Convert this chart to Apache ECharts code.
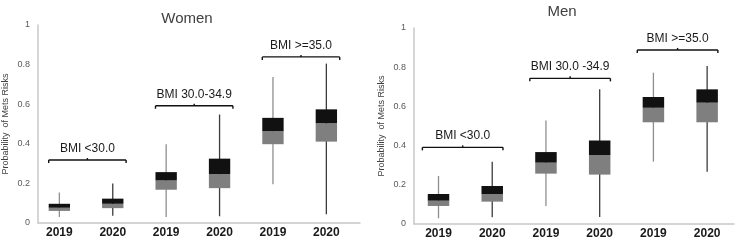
<!DOCTYPE html>
<html>
<head>
<meta charset="utf-8">
<script src="https://cdn.jsdelivr.net/npm/echarts@6/dist/echarts.min.js"></script>
<style>
html,body{margin:0;padding:0;background:#fff;}
#chart{width:742px;height:241px;}
</style>
</head>
<body>
<div id="chart"></div>
<script>
// ---- data ----
const categories = ['2019', '2020', '2019', '2020', '2019', '2020'];
const yTicks = [0, 0.2, 0.4, 0.6, 0.8, 1];

const womenMin    = [0.030, 0.036, 0.030, 0.034, 0.196, 0.044];
const womenQ1     = [0.061, 0.075, 0.168, 0.176, 0.398, 0.411];
const womenMedian = [0.077, 0.097, 0.215, 0.247, 0.464, 0.504];
const womenQ3     = [0.097, 0.123, 0.257, 0.325, 0.531, 0.574];
const womenMax    = [0.154, 0.200, 0.398, 0.548, 0.738, 0.805];

const menMin    = [0.029, 0.034, 0.092, 0.036, 0.318, 0.267];
const menQ1     = [0.092, 0.114, 0.257, 0.252, 0.519, 0.519];
const menMedian = [0.119, 0.153, 0.313, 0.352, 0.593, 0.619];
const menQ3     = [0.153, 0.194, 0.367, 0.426, 0.648, 0.687];
const menMax    = [0.245, 0.318, 0.528, 0.687, 0.772, 0.806];

const womenGroups = ['BMI <30.0', 'BMI 30.0-34.9', 'BMI >=35.0'];
const menGroups   = ['BMI <30.0', 'BMI 30.0 -34.9', 'BMI >=35.0'];
const womenBracketLevels = [0.318, 0.592, 0.839];
const menBracketLevels   = [0.391, 0.743, 0.888];

// ---- build ----
const FONT = "'Liberation Sans', Arial, sans-serif";
const BOX_W = 0.4;

function boxData(mn, q1, md, q3, mx) {
  return categories.map((c, i) => [i + 1, mn[i], q1[i], md[i], q3[i], mx[i]]);
}
function bracketData(levels, padL, padR) {
  return levels.map((lv, g) => [2 * g + 1 - padL, 2 * g + 2 + padR, lv]);
}

function renderBox(params, api) {
  const x = api.value(0);
  const lo = api.coord([x, api.value(1)]);
  const q1 = api.coord([x, api.value(2)]);
  const md = api.coord([x, api.value(3)]);
  const q3 = api.coord([x, api.value(4)]);
  const hi = api.coord([x, api.value(5)]);
  const w = api.size([BOX_W, 0])[0];
  const cx = lo[0];
  const whisker = categories[params.dataIndex] === '2019' ? '#8f8f8f' : '#3c3c3c';
  return {
    type: 'group',
    children: [
      { type: 'line', shape: { x1: cx, y1: hi[1], x2: cx, y2: lo[1] },
        style: { stroke: whisker, lineWidth: 1.3 } },
      { type: 'rect', shape: { x: cx - w / 2, y: md[1], width: w, height: q1[1] - md[1] },
        style: { fill: '#7f7f7f' } },
      { type: 'rect', shape: { x: cx - w / 2, y: q3[1], width: w, height: md[1] - q3[1] },
        style: { fill: '#111111' } }
    ]
  };
}

function makeBracketRenderer(labels) {
  return function (params, api) {
    const a = api.coord([api.value(0), api.value(2)]);
    const b = api.coord([api.value(1), api.value(2)]);
    const mid = (a[0] + b[0]) / 2;
    const y = a[1];
    const st = { stroke: '#111', lineWidth: 1.4 };
    return {
      type: 'group',
      children: [
        { type: 'line', shape: { x1: a[0], y1: y, x2: b[0], y2: y }, style: st },
        { type: 'line', shape: { x1: a[0], y1: y, x2: a[0], y2: y + 3 }, style: st },
        { type: 'line', shape: { x1: b[0], y1: y, x2: b[0], y2: y + 3 }, style: st },
        { type: 'line', shape: { x1: mid, y1: y, x2: mid, y2: y - 2 }, style: st },
        { type: 'text', x: mid, y: y - 11.5,
          style: { text: labels[params.dataIndex], align: 'center', verticalAlign: 'middle',
                   fontSize: 12, fontFamily: FONT, fill: '#1a1a1a' } }
      ]
    };
  };
}

function xAxisCfg(gridIndex, min, max) {
  return {
    type: 'value', gridIndex, min, max,
    axisLine: { show: true, onZero: false, lineStyle: { color: '#c8c8c8', width: 1.5 } },
    axisTick: { show: false },
    splitLine: { show: false },
    axisLabel: {
      customValues: categories.map((c, i) => i + 1),
      formatter: v => categories[Math.round(v) - 1],
      fontSize: 12, fontWeight: 'bold', color: '#1a1a1a', fontFamily: FONT, margin: 4
    }
  };
}
function yAxisCfg(gridIndex) {
  return {
    type: 'value', gridIndex, min: 0, max: 1, interval: 0.2,
    name: 'Probability  of Mets Risks', nameLocation: 'middle', nameGap: 28,
    nameTextStyle: { fontSize: 9, color: '#404040', fontFamily: FONT },
    axisLine: { show: true, lineStyle: { color: '#c8c8c8', width: 1.5 } },
    axisTick: { show: false },
    splitLine: { show: false },
    axisLabel: {
      customValues: yTicks,
      formatter: v => (v === 0 ? '0' : v === 1 ? '1' : v.toFixed(1)),
      fontSize: 9, color: '#595959', fontFamily: FONT, margin: 8
    }
  };
}

const chart = echarts.init(document.getElementById('chart'), null, { renderer: 'canvas' });
chart.setOption({
  animation: false,
  backgroundColor: '#ffffff',
  title: [
    { text: 'Women', left: 182, top: 6, textAlign: 'center',
      textStyle: { fontSize: 15, fontWeight: 'normal', color: '#404040', fontFamily: FONT } },
    { text: 'Men', left: 557, top: -1, textAlign: 'center',
      textStyle: { fontSize: 15, fontWeight: 'normal', color: '#404040', fontFamily: FONT } }
  ],
  grid: [
    { left: 36, top: 25, width: 324, height: 198 },
    { left: 414, top: 28, width: 320, height: 196 }
  ],
  xAxis: [xAxisCfg(0, 0.6, 6.63), xAxisCfg(1, 0.544, 6.5)],
  yAxis: [yAxisCfg(0), yAxisCfg(1)],
  series: [
    { type: 'custom', name: 'Women', xAxisIndex: 0, yAxisIndex: 0,
      renderItem: renderBox, encode: { x: 0, y: [1, 2, 3, 4, 5] },
      data: boxData(womenMin, womenQ1, womenMedian, womenQ3, womenMax) },
    { type: 'custom', name: 'Men', xAxisIndex: 1, yAxisIndex: 1,
      renderItem: renderBox, encode: { x: 0, y: [1, 2, 3, 4, 5] },
      data: boxData(menMin, menQ1, menMedian, menQ3, menMax) },
    { type: 'custom', name: 'WomenGroups', xAxisIndex: 0, yAxisIndex: 0, clip: false,
      renderItem: makeBracketRenderer(womenGroups), encode: { x: [0, 1], y: 2 },
      data: bracketData(womenBracketLevels, 0.2, 0.25) },
    { type: 'custom', name: 'MenGroups', xAxisIndex: 1, yAxisIndex: 1, clip: false,
      renderItem: makeBracketRenderer(menGroups), encode: { x: [0, 1], y: 2 },
      data: bracketData(menBracketLevels, 0.3, 0.2) }
  ]
});
</script>
</body>
</html>
